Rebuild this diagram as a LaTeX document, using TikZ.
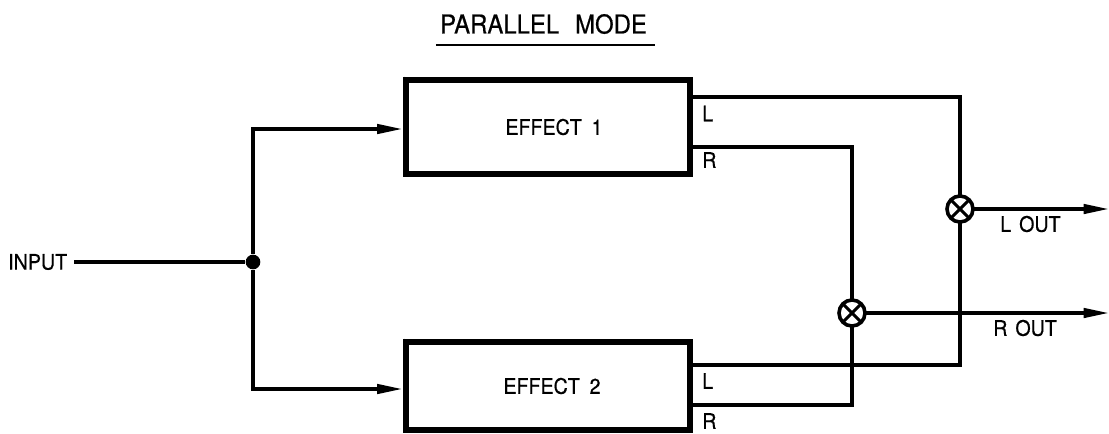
\documentclass[tikz,border=0pt]{standalone}
\usepackage{fontspec}
\setmainfont[FakeBold=0.6]{TeX Gyre Heros}
\usetikzlibrary{arrows.meta}
% slightly condensed lettering
\newcommand{\cond}[1]{\scalebox{0.92}[1]{#1}}
\begin{document}
\begin{tikzpicture}[x=0.75pt,y=-0.75pt,
  wire/.style={line width=2.5pt},
  sig/.style={wire,-{Triangle[length=19pt,width=7pt]}},
  effectbox/.style={draw,line width=5.2pt,rectangle,minimum width=213pt,inner sep=0pt},
  mixer/.style={draw,circle,line width=2.7pt,minimum size=19.5pt,inner sep=0pt,outer sep=0pt},
  lbl/.style={inner sep=0pt,font=\fontsize{16}{19}\selectfont},
  junction/.style={fill,circle,minimum size=11pt,inner sep=0pt}]
\useasboundingbox (0,0) rectangle (1109,433);

% title
\node[inner sep=0pt,font=\fontsize{19.5}{23}\selectfont] (title) at (543.5,24) {\cond{PARALLEL\hspace{13pt}MODE}};
\draw[line width=1.5pt] ([xshift=-3pt,yshift=-8pt]title.south west) -- ([xshift=6pt,yshift=-8pt]title.south east);

% effect units, with a heavier left edge
\node[effectbox,minimum height=70.5pt] (fx1) at (548,127) {};
\node[effectbox,minimum height=66pt] (fx2) at (548,386) {};
\draw[line width=1.5pt] ([xshift=0.75pt]fx1.north west) -- ([xshift=0.75pt]fx1.south west);
\draw[line width=1.5pt] ([xshift=0.75pt]fx2.north west) -- ([xshift=0.75pt]fx2.south west);
\node[lbl] (t1) at (554,127) {\cond{EFFECT\hspace{8pt}1}};
\node[lbl] (t2) at (552,386) {\cond{EFFECT\hspace{8pt}2}};

% input and split
\node[lbl,anchor=west] (in) at (8,262) {\cond{INPUT}};
\node[junction] (dot) at (253,262) {};
\draw[wire] ([xshift=5pt]in.east) -- (dot);
\draw[sig] (dot) |- (fx1.west |- 0,129);
\draw[sig] (dot) |- (fx2.west |- 0,389);

% effect outputs
\coordinate (fx1L) at (fx1.east |- 0,97);
\coordinate (fx1R) at (fx1.east |- 0,147);
\coordinate (fx2L) at (fx2.east |- 0,365);
\coordinate (fx2R) at (fx2.east |- 0,405);
\node[lbl,anchor=west] (l1) at (702,113.5) {\cond{L}};
\node[lbl,anchor=west] (r1) at (702,160) {\cond{R}};
\node[lbl,anchor=west] (l2) at (702,381) {\cond{L}};
\node[lbl,anchor=west] (r2) at (702,421) {\cond{R}};

% mixers
\node[mixer] (mixL) at (960,209) {};
\node[mixer] (mixR) at (852,313) {};
\foreach \m in {mixL,mixR}{
  \draw[line width=2.3pt] (\m.45) -- (\m.225);
  \draw[line width=2.3pt] (\m.135) -- (\m.315);
}
\draw[wire] (fx1L) -| (mixL.north);
\draw[wire] (fx2L) -| (mixL.south);
\draw[wire] (fx1R) -| (mixR.north);
\draw[wire] (fx2R) -| (mixR.south);

% outputs
\coordinate (outL) at (1109,209);
\coordinate (outR) at (1109,313);
\draw[sig] (mixL.east) -- (outL);
\draw[sig] (mixR.east) -- (outR);
\node[lbl,anchor=west] (lo) at (1000,224) {\cond{L\hspace{6.5pt}OUT}};
\node[lbl,anchor=west] (ro) at (993,328) {\cond{R\hspace{6.5pt}OUT}};
\end{tikzpicture}
\end{document}
